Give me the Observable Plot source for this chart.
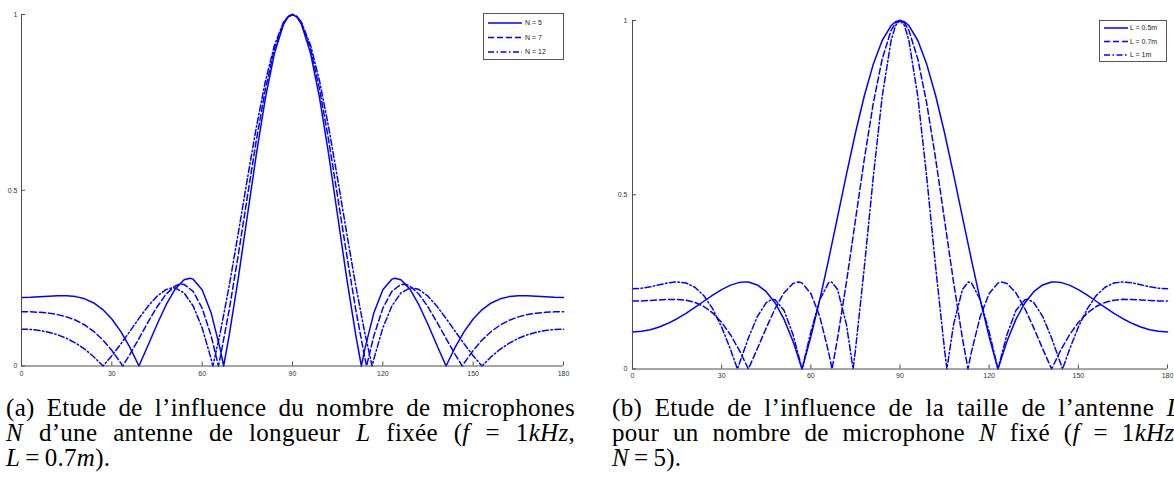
<!DOCTYPE html>
<html><head><meta charset="utf-8">
<script src="https://cdn.jsdelivr.net/npm/d3@7"></script>
<script src="https://cdn.jsdelivr.net/npm/@observablehq/plot@0.6"></script>
<style>
html,body{margin:0;padding:0;background:#fff;}
body{width:1174px;height:480px;overflow:hidden;position:relative;}
.panel{position:absolute;top:0;}
#legend{position:absolute;left:0;top:0;pointer-events:none;}
.cap{position:absolute;top:395px;font-family:"Liberation Serif",serif;font-size:25px;letter-spacing:0.3px;color:#000;width:569px;}
.cap div{line-height:25px;white-space:nowrap;}
.cap div.j{text-align:justify;text-align-last:justify;white-space:normal;}
.eq{margin:0 5px;}
</style></head><body>
<div id="pa" class="panel" style="left:0px"></div>
<div id="pb" class="panel" style="left:600px"></div>
<svg id="legend" width="1174" height="390"></svg>
<div class="cap" style="left:6px">
  <div class="j">(a) Etude de l’influence du nombre de microphones</div>
  <div class="j"><i>N</i> d’une antenne de longueur <i>L</i> fixée (<i>f</i> = 1<i>kHz</i>,</div>
  <div><i>L</i><span class="eq">=</span>0.7<i>m</i>).</div>
</div>
<div class="cap" style="left:612px">
  <div class="j">(b) Etude de l’influence de la taille de l’antenne <i>L</i></div>
  <div class="j">pour un nombre de microphone <i>N</i> fixé (<i>f</i> = 1<i>kHz</i>,</div>
  <div><i>N</i><span class="eq">=</span>5).</div>
</div>
<script>
// ---- data (angle in degrees, normalised array gain) ----
const angles = [0,3,6,9,12,15,18,21,24,27,30,33,36,39,42,45,48,51,54,57,60,63,66,69,72,75,78,81,84,87,90,93,96,99,102,105,108,111,114,117,120,123,126,129,132,135,138,141,144,147,150,153,156,159,162,165,168,171,174,177,180];
const ticksX = [0,30,60,90,120,150,180];
const ticksY = [0,0.5,1];

// panel (a): L = 0.7 m, N varies
const gainN5 = [0.1949,0.1954,0.1967,0.1983,0.1997,0.1998,0.1974,0.1911,0.1793,0.1606,0.1336,0.0977,0.0528,0.0000,0.0582,0.1179,0.1736,0.2187,0.2456,0.2471,0.2168,0.1506,0.0479,0.0883,0.2503,0.4267,0.6026,0.7620,0.8894,0.9716,1.0000,
0.9716,0.8894,0.7620,0.6026,0.4267,0.2503,0.0883,0.0479,0.1506,0.2168,0.2471,0.2456,0.2187,0.1736,0.1179,0.0582,0.0000,0.0528,0.0977,0.1336,0.1606,0.1793,0.1911,0.1974,0.1998,0.1997,0.1983,0.1967,0.1954,0.1949];
const gainN7 = [0.1545,0.1541,0.1528,0.1504,0.1462,0.1398,0.1302,0.1167,0.0983,0.0743,0.0443,0.0083,0.0331,0.0782,0.1244,0.1680,0.2042,0.2275,0.2321,0.2125,0.1643,0.0852,0.0243,0.1606,0.3164,0.4813,0.6428,0.7871,0.9014,0.9747,1.0000,
0.9747,0.9014,0.7871,0.6428,0.4813,0.3164,0.1606,0.0243,0.0852,0.1643,0.2125,0.2321,0.2275,0.2042,0.1680,0.1244,0.0782,0.0331,0.0083,0.0443,0.0743,0.0983,0.1167,0.1302,0.1398,0.1462,0.1504,0.1528,0.1541,0.1545];
const gainN12 = [0.1049,0.1040,0.1011,0.0962,0.0888,0.0786,0.0651,0.0478,0.0264,0.0006,0.0293,0.0629,0.0989,0.1354,0.1697,0.1985,0.2174,0.2220,0.2078,0.1708,0.1084,0.0195,0.0944,0.2292,0.3781,0.5319,0.6796,0.8101,0.9124,0.9776,1.0000,
0.9776,0.9124,0.8101,0.6796,0.5319,0.3781,0.2292,0.0944,0.0195,0.1084,0.1708,0.2078,0.2220,0.2174,0.1985,0.1697,0.1354,0.0989,0.0629,0.0293,0.0006,0.0264,0.0478,0.0651,0.0786,0.0888,0.0962,0.1011,0.1040,0.1049];
// nulls, lobe peaks and main-lobe points between grid angles
const extraN5 = [[56,0.2498],[67.13,0],[88.5,0.9928],[91.5,0.9928],[112.87,0],[124,0.2498]];
const extraN7 = [[33.63,0],[52.5,0.2325],[65.4,0],[88.5,0.9937],[91.5,0.9937],[114.6,0],[127.5,0.2325],[146.37,0]];
const extraN12 = [[27.07,0],[50,0.2223],[63.56,0],[88.5,0.9944],[91.5,0.9944],[116.44,0],[130,0.2223],[152.93,0]];

// panel (b): N = 5, L varies
const gainL05 = [0.1064,0.1080,0.1127,0.1205,0.1311,0.1443,0.1597,0.1766,0.1944,0.2119,0.2278,0.2406,0.2485,0.2494,0.2412,0.2219,0.1895,0.1424,0.0797,0.0013,0.0921,0.1984,0.3147,0.4367,0.5594,0.6772,0.7840,0.8742,0.9426,0.9855,1.0000,
0.9855,0.9426,0.8742,0.7840,0.6772,0.5594,0.4367,0.3147,0.1984,0.0921,0.0013,0.0797,0.1424,0.1895,0.2219,0.2412,0.2494,0.2485,0.2406,0.2278,0.2119,0.1944,0.1766,0.1597,0.1443,0.1311,0.1205,0.1127,0.1080,0.1064];
const gainL07 = [0.1949,0.1954,0.1967,0.1983,0.1997,0.1998,0.1974,0.1911,0.1793,0.1606,0.1336,0.0977,0.0528,0.0000,0.0582,0.1179,0.1736,0.2187,0.2456,0.2471,0.2168,0.1506,0.0479,0.0883,0.2503,0.4267,0.6026,0.7620,0.8894,0.9716,1.0000,
0.9716,0.8894,0.7620,0.6026,0.4267,0.2503,0.0883,0.0479,0.1506,0.2168,0.2471,0.2456,0.2187,0.1736,0.1179,0.0582,0.0000,0.0528,0.0977,0.1336,0.1606,0.1793,0.1911,0.1974,0.1998,0.1997,0.1983,0.1967,0.1954,0.1949];
const gainL1 = [0.2301,0.2317,0.2359,0.2418,0.2473,0.2500,0.2468,0.2346,0.2105,0.1725,0.1202,0.0555,0.0169,0.0890,0.1507,0.1907,0.1985,0.1679,0.0991,0.0016,0.1064,0.1989,0.2477,0.2282,0.1267,0.0539,0.2920,0.5500,0.7818,0.9424,1.0000,
0.9424,0.7818,0.5500,0.2920,0.0539,0.1267,0.2282,0.2477,0.1989,0.1064,0.0016,0.0991,0.1679,0.1985,0.1907,0.1507,0.0890,0.0169,0.0555,0.1202,0.1725,0.2105,0.2346,0.2468,0.2500,0.2473,0.2418,0.2359,0.2317,0.2301];
const extraL05 = [[38,0.25],[57.04,0],[88.5,0.9964],[91.5,0.9964],[122.96,0],[142,0.25]];
const extraL07 = [[56,0.2498],[67.13,0],[88.5,0.9928],[91.5,0.9928],[112.87,0],[124,0.2498]];
const extraL1 = [[35.31,0],[47,0.2],[57.04,0],[67,0.2497],[74.22,0],[88.5,0.9855],[91.5,0.9855],[105.78,0],[113,0.2497],[122.96,0],[133,0.2],[144.69,0]];

const legendA = ["N = 5", "N = 7", "N = 12"];
const legendB = ["L = 0.5m", "L = 0.7m", "L = 1m"];

// ---- styling ----
const BLUE = "#0000ff";
const AXIS = "#4d4d4d";
const LABEL = "#333";
const DASHES = [null, "6,3", "6,2.5,1.5,2.5"];
const LW = 1.5;

function build(vals, extra) {
  const pts = angles.map((a, i) => ({angle: a, gain: vals[i]}));
  extra.forEach(([a, g]) => pts.push({angle: a, gain: g}));
  pts.sort((p, q) => p.angle - q.angle);
  return pts;
}

function panel(seriesList, o) {
  return Plot.plot({
    width: o.width, height: o.height,
    marginLeft: o.mL, marginRight: o.mR, marginTop: o.mT, marginBottom: o.mB,
    x: {domain: [0, 180], label: null},
    y: {domain: [0, 1], label: null},
    style: {fontFamily: "'Liberation Sans', Arial, sans-serif", fontSize: "7px", background: "transparent"},
    marks: [
      ...seriesList.map((s, i) => Plot.line(s, {x: "angle", y: "gain", stroke: BLUE, strokeWidth: LW, strokeDasharray: DASHES[i], strokeLinejoin: "round"})),
      Plot.ruleY([0], {stroke: AXIS, strokeWidth: 1}),
      Plot.ruleX([0], {stroke: AXIS, strokeWidth: 1}),
      Plot.ruleX(ticksX, {x: d => d, y1: 0, y2: 0, insetTop: -4, stroke: AXIS}),
      Plot.ruleY(ticksY, {y: d => d, x1: 0, x2: 0, insetRight: -4, stroke: AXIS}),
      Plot.axisX(ticksX, {tickSize: 0, tickPadding: o.xPad, fontSize: 7, fill: LABEL, label: null, tickFormat: d => String(d)}),
      Plot.axisY(ticksY, {tickSize: 0, tickPadding: o.yPad, fontSize: 7, fill: LABEL, label: null, tickFormat: d => String(d)})
    ]
  });
}

const pa = panel([build(gainN5, extraN5), build(gainN7, extraN7), build(gainN12, extraN12)],
  {width: 580, height: 390, mL: 21, mR: 17, mT: 14, mB: 24.5, xPad: 5, yPad: 4});
document.getElementById("pa").append(pa);

const pb = panel([build(gainL05, extraL05), build(gainL07, extraL07), build(gainL1, extraL1)],
  {width: 574, height: 390, mL: 32, mR: 7, mT: 20, mB: 21.5, xPad: 4, yPad: 5});
document.getElementById("pb").append(pb);

// ---- legends ----
const svg = d3.select("#legend");
function legend(labels, box) {
  const g = svg.append("g");
  g.append("rect").attr("x", box.x + 0.5).attr("y", box.y + 0.5).attr("width", box.w).attr("height", box.h)
    .attr("fill", "#fff").attr("stroke", "#555").attr("stroke-width", 1);
  labels.forEach((t, i) => {
    const y = box.rows[i];
    g.append("line").attr("x1", box.l1).attr("x2", box.l2).attr("y1", y).attr("y2", y)
      .attr("stroke", BLUE).attr("stroke-width", LW).attr("stroke-dasharray", DASHES[i]);
    g.append("text").attr("x", box.tx).attr("y", y).attr("dy", "0.35em")
      .attr("font-family", "'Liberation Sans', Arial, sans-serif").attr("font-size", 7).attr("fill", "#222").text(t);
  });
}
legend(legendA, {x: 483, y: 13, w: 80, h: 46, rows: [23, 37.5, 52], l1: 488, l2: 522, tx: 525});
legend(legendB, {x: 1099, y: 20, w: 67, h: 41, rows: [28, 41.5, 55], l1: 1104, l2: 1128, tx: 1130});
</script>
</body></html>
